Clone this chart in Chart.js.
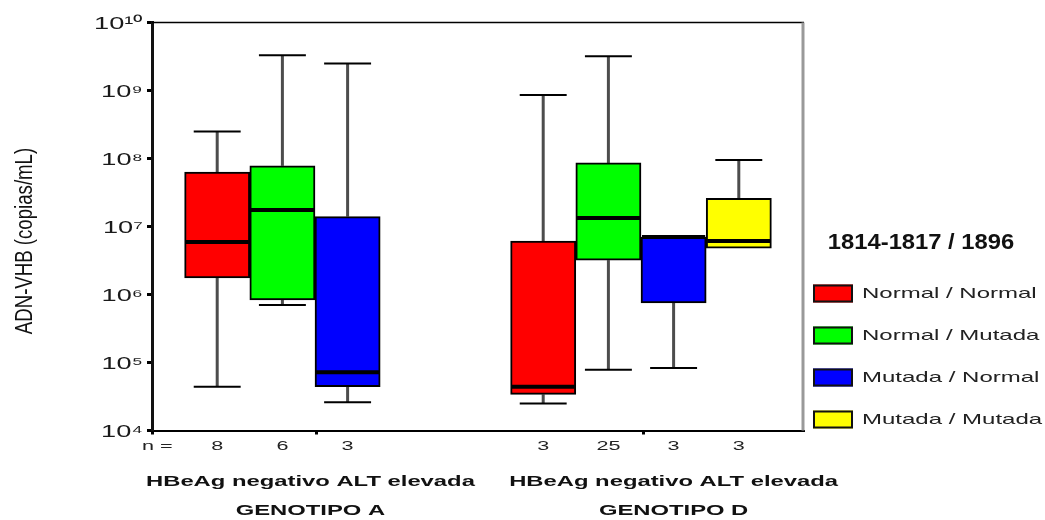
<!DOCTYPE html>
<html>
<head>
<meta charset="utf-8">
<script src="https://cdn.jsdelivr.net/npm/chart.js@4.4.1/dist/chart.umd.min.js"></script>
<style>
  html, body { margin: 0; padding: 0; background: #fff; }
  canvas { display: block; }
</style>
</head>
<body>
<canvas id="chart" width="1045" height="520"></canvas>
<script>
// HBV DNA (copies/mL) by precore / core-promoter status (1814-1817 / 1896), genotypes A and D

const seriesNames  = ['Normal / Normal', 'Normal / Mutada', 'Mutada / Normal', 'Mutada / Mutada'];
const seriesColors = ['#ff0000', '#00ff00', '#0000ff', '#ffff00'];

// one entry per box, left to right
const boxSlot     = [1, 2, 3, 6, 7, 8, 9];
const boxSeries   = [0, 1, 2, 0, 1, 2, 3];
const nCounts     = [8, 6, 3, 3, 25, 3, 3];
const whiskerLow  = [4.4e4, 7.0e5, 2.6e4, 2.5e4, 7.8e4, 8.3e4, 4.8e6];
const quartile1   = [1.75e6, 8.3e5, 4.4e4, 3.4e4, 3.2e6, 7.5e5, 4.8e6];
const medians     = [5.9e6, 1.75e7, 7.2e4, 4.4e4, 1.33e7, 7.0e6, 6.1e6];
const quartile3   = [6.3e7, 7.8e7, 1.4e7, 6.1e6, 8.6e7, 7.0e6, 2.6e7];
const whiskerHigh = [2.5e8, 3.3e9, 2.5e9, 8.6e8, 3.2e9, 7.0e6, 9.5e7];

const yTickValues = [1e4, 1e5, 1e6, 1e7, 1e8, 1e9, 1e10];
const yTickLabels = ['10⁴', '10⁵', '10⁶', '10⁷', '10⁸', '10⁹', '10¹⁰'];

const groupSlots  = [2.43, 8.0];
const groupLabels = [
  ['HBeAg negativo ALT elevada', 'GENOTIPO A'],
  ['HBeAg negativo ALT elevada', 'GENOTIPO D']
];
const nPrefix     = 'n =';
const legendTitle = '1814-1817 / 1896';
const yTitle      = 'ADN-VHB (copias/mL)';

// axis decoration
const FONT = "'Liberation Sans', Arial, sans-serif";
const nPrefixSlot = 0.08;
const axisMarkSlots = [0, 2.53, 7.54];
const labelStretch = { y: 1.6, xn: 1.8, xg: 1.7 };
const labelShift   = { y: 2, xn: 2, xg: -7 };

const nRowTicks = [{ value: 0, label: '' }, { value: nPrefixSlot, label: nPrefix }]
  .concat(boxSlot.map((s, i) => ({ value: s, label: String(nCounts[i]) })))
  .concat(axisMarkSlots.slice(1).map(v => ({ value: v, label: '' })))
  .sort((a, b) => a.value - b.value);

// text drawn with a horizontal stretch around its anchor
function stretchedText(ctx, text, x, y, o) {
  ctx.save();
  ctx.translate(x, y);
  if (o.rotate) ctx.rotate(o.rotate);
  ctx.scale(o.stretch || 1, 1);
  ctx.font = o.font;
  ctx.fillStyle = o.color || '#000';
  ctx.textAlign = o.align || 'left';
  ctx.textBaseline = 'middle';
  ctx.fillText(text, 0, 0);
  ctx.restore();
}

function drawStretchedLabels(scale) {
  const ctx = scale.ctx;
  const stretch = labelStretch[scale.id] || 1;
  const dy = labelShift[scale.id] || 0;
  for (const item of scale.getLabelItems(scale.chart.chartArea)) {
    const o = item.options;
    const lines = Array.isArray(item.label) ? item.label : [item.label];
    ctx.save();
    ctx.translate(o.translation[0], o.translation[1] + dy);
    ctx.scale(stretch, 1);
    ctx.font = item.font.string;
    ctx.fillStyle = o.color;
    ctx.textAlign = o.textAlign;
    ctx.textBaseline = o.textBaseline;
    let ty = item.textOffset;
    for (const line of lines) {
      ctx.fillText(line, 0, ty);
      ty += item.font.lineHeight;
    }
    ctx.restore();
  }
}

class StretchedLinearScale extends Chart.LinearScale {
  static id = 'stretchedLinear';
  drawLabels() { if (this.options.ticks.display) drawStretchedLabels(this); }
}
class StretchedLogScale extends Chart.LogarithmicScale {
  static id = 'stretchedLog';
  drawLabels() { if (this.options.ticks.display) drawStretchedLabels(this); }
}
Chart.register(StretchedLinearScale, StretchedLogScale);

function forEachBox(chart, fn) {
  chart.data.datasets.forEach((ds, d) => {
    const meta = chart.getDatasetMeta(d);
    ds.boxIndex.forEach((i, j) => fn(meta.data[j], i));
  });
}

const boxPlotDecor = {
  id: 'boxPlotDecor',
  beforeDatasetsDraw(chart) {
    const { ctx, chartArea: a, scales: { y } } = chart;
    ctx.save();
    // frame: thin top edge, grey right edge
    ctx.strokeStyle = '#000';
    ctx.lineWidth = 1.5;
    ctx.beginPath(); ctx.moveTo(a.left, a.top); ctx.lineTo(a.right, a.top); ctx.stroke();
    ctx.strokeStyle = '#999';
    ctx.lineWidth = 3;
    ctx.beginPath(); ctx.moveTo(a.right - 1, a.top); ctx.lineTo(a.right - 1, a.bottom); ctx.stroke();

    // whiskers and caps
    forEachBox(chart, (bar, i) => {
      const cx = bar.x;
      const capHalf = bar.width * 0.36;
      const segs = [];
      if (whiskerHigh[i] > quartile3[i]) segs.push([quartile3[i], whiskerHigh[i]]);
      if (whiskerLow[i] < quartile1[i]) segs.push([quartile1[i], whiskerLow[i]]);
      for (const [from, to] of segs) {
        const y0 = y.getPixelForValue(from), y1 = y.getPixelForValue(to);
        ctx.strokeStyle = '#4d4d4d';
        ctx.lineWidth = 3;
        ctx.beginPath(); ctx.moveTo(cx, y0); ctx.lineTo(cx, y1); ctx.stroke();
        ctx.strokeStyle = '#000';
        ctx.lineWidth = 2;
        ctx.beginPath(); ctx.moveTo(cx - capHalf, y1); ctx.lineTo(cx + capHalf, y1); ctx.stroke();
      }
    });
    ctx.restore();
  },
  afterDatasetsDraw(chart) {
    const { ctx, scales: { y } } = chart;
    ctx.save();
    ctx.strokeStyle = '#000';
    ctx.lineWidth = 4;
    forEachBox(chart, (bar, i) => {
      const my = y.getPixelForValue(medians[i]);
      const half = bar.width / 2;
      ctx.beginPath(); ctx.moveTo(bar.x - half + 1, my); ctx.lineTo(bar.x + half - 1, my); ctx.stroke();
    });
    ctx.restore();
  },
  afterDraw(chart) {
    const ctx = chart.ctx;
    // vertical axis title
    stretchedText(ctx, yTitle, 26, 241, {
      rotate: -Math.PI / 2, stretch: 0.81, font: `23px ${FONT}`, align: 'center', color: '#111'
    });
    // legend
    stretchedText(ctx, legendTitle, 921, 243, {
      stretch: 1.08, font: `bold 22px ${FONT}`, align: 'center', color: '#111'
    });
    chart.data.datasets.forEach((ds, k) => {
      const cy = 293.5 + k * 42;
      ctx.save();
      ctx.fillStyle = ds.backgroundColor;
      ctx.fillRect(813, cy - 9, 40, 18);
      ctx.strokeStyle = '#111';
      ctx.lineWidth = 2;
      ctx.strokeRect(814, cy - 8, 38, 16);
      ctx.restore();
      stretchedText(ctx, ds.label, 862, cy, {
        stretch: 1.6, font: `15px ${FONT}`, align: 'left', color: '#222'
      });
    });
  }
};

const datasets = seriesNames.map((name, s) => {
  const idx = boxSeries.map((ser, i) => (ser === s ? i : -1)).filter(i => i >= 0);
  return {
    label: name,
    backgroundColor: seriesColors[s],
    borderColor: '#000',
    borderWidth: 2,
    borderSkipped: false,
    grouped: false,
    barPercentage: 1,
    categoryPercentage: 1,
    xAxisID: 'x',
    yAxisID: 'y',
    boxIndex: idx,
    data: idx.map(i => ({ x: boxSlot[i], y: [quartile1[i], quartile3[i]] }))
  };
});

new Chart(document.getElementById('chart'), {
  type: 'bar',
  data: { datasets },
  plugins: [boxPlotDecor],
  options: {
    responsive: false,
    animation: false,
    devicePixelRatio: 1,
    events: [],
    layout: { padding: { top: 22.5, right: 241, bottom: 0, left: 0 } },
    plugins: { legend: { display: false }, tooltip: { enabled: false } },
    scales: {
      x: {
        type: 'linear', axis: 'x', position: 'bottom', weight: 0,
        min: 0, max: 10, offset: false,
        ticks: { display: false, stepSize: 1 },
        grid: { display: false, offset: false },
        border: { display: true, color: '#000', width: 2 },
        afterFit(s) { s.height = 0; }
      },
      xn: {
        type: 'stretchedLinear', axis: 'x', position: 'bottom', weight: 1,
        min: 0, max: 10, offset: false,
        afterBuildTicks(s) { s.ticks = nRowTicks.map(t => ({ value: t.value })); },
        ticks: {
          autoSkip: false, maxRotation: 0, minRotation: 0, padding: 3,
          color: '#222', font: { family: FONT, size: 12 },
          callback: (v, i) => nRowTicks[i].label
        },
        grid: {
          display: true, drawOnChartArea: false, drawTicks: true, offset: false,
          tickLength: 4, tickWidth: 3,
          tickColor: c => (c.tick && axisMarkSlots.includes(c.tick.value) ? '#000' : 'rgba(0,0,0,0)')
        },
        border: { display: false },
        afterFit(s) { s.height = 30; }
      },
      xg: {
        type: 'stretchedLinear', axis: 'x', position: 'bottom', weight: 2,
        min: 0, max: 10, offset: false,
        afterBuildTicks(s) { s.ticks = groupSlots.map(v => ({ value: v })); },
        ticks: {
          autoSkip: false, maxRotation: 0, minRotation: 0, padding: 6,
          color: '#111', font: { family: FONT, size: 14, weight: 'bold', lineHeight: '29px' },
          callback: (v, i) => groupLabels[i]
        },
        grid: { display: false, offset: false },
        border: { display: false },
        afterFit(s) { s.height = 59.5; }
      },
      y: {
        type: 'stretchedLog', position: 'left',
        min: yTickValues[0], max: yTickValues[yTickValues.length - 1],
        afterBuildTicks(s) { s.ticks = yTickValues.map(v => ({ value: v })); },
        ticks: {
          autoSkip: false, padding: 4, color: '#1a1a1a',
          font: { family: FONT, size: 17 },
          callback: (v, i) => yTickLabels[i]
        },
        grid: {
          display: true, drawOnChartArea: false, drawTicks: true,
          tickLength: 5, tickWidth: 3, tickColor: '#000'
        },
        border: { display: true, color: '#111', width: 3 },
        afterFit(s) { s.width = 152; }
      }
    }
  }
});
</script>
</body>
</html>
